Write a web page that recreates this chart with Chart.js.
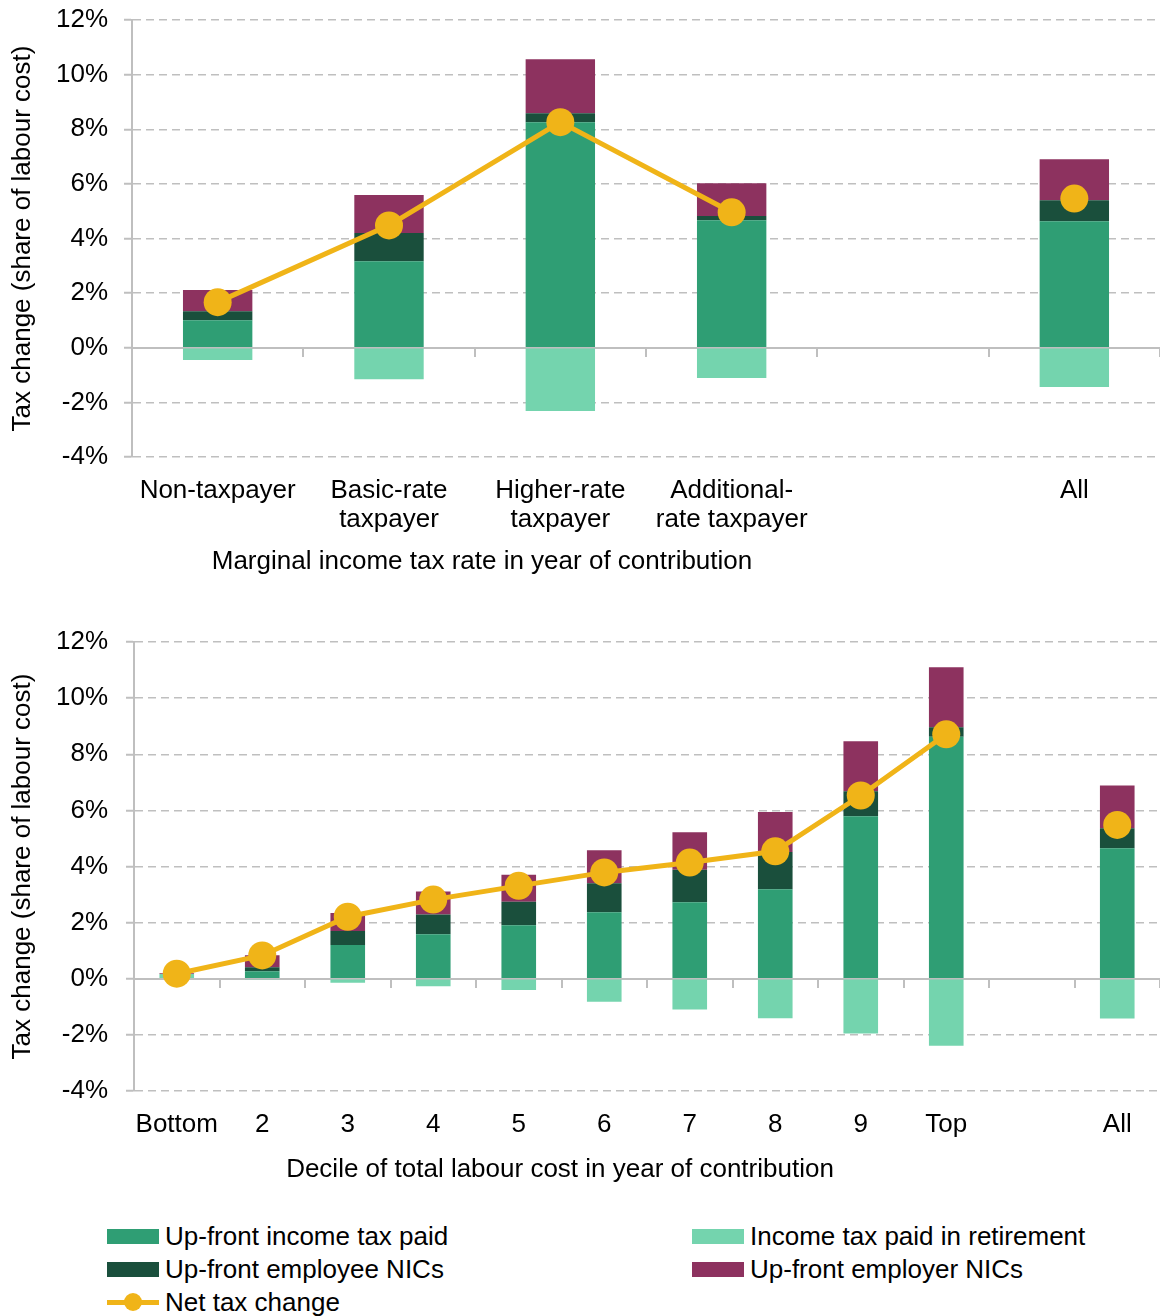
<!DOCTYPE html>
<html><head><meta charset="utf-8">
<script src="https://cdn.jsdelivr.net/npm/chart.js@4.4.1/dist/chart.umd.min.js"></script>
<style>
html,body{margin:0;padding:0;background:#fff;}
#wrap{position:relative;width:1160px;height:1316px;overflow:hidden;font-family:"Liberation Sans",Arial,sans-serif;}
canvas{position:absolute;left:0;}
#c1{top:0;} #c2{top:600px;}
.lg{position:absolute;display:flex;align-items:center;font-size:26px;color:#000;white-space:nowrap;height:34px;line-height:34px;}
.sw{width:52px;height:15px;margin-right:6px;flex:none;}
.ln{position:relative;width:52px;height:18px;margin-right:6px;flex:none;}
.ln .bar{position:absolute;left:0;right:0;top:6.5px;height:5px;}
.ln .dot{position:absolute;left:17px;top:0;width:18px;height:18px;border-radius:50%;}
</style></head>
<body><div id="wrap">
<canvas id="c1" width="1160" height="590"></canvas>
<canvas id="c2" width="1160" height="590"></canvas>
<div id="legend"></div>
</div>
<script>
// ---- Series names and colours ----
const seriesNames = ['Up-front income tax paid','Income tax paid in retirement','Up-front employee NICs','Up-front employer NICs','Net tax change'];
const seriesColors = ['#2f9e74','#74d4ae','#1a4f3c','#8d325f','#f0b418'];

// ---- Top chart: marginal income tax rate ----
const catsTop = ['Non-taxpayer',['Basic-rate','taxpayer'],['Higher-rate','taxpayer'],['Additional-','rate taxpayer'],'','All'];
const upfrontTaxTop   = [1.01, 3.17, 8.26, 4.67, null, 4.63];
const retireTaxTop    = [-0.45, -1.15, -2.32, -1.11, null, -1.44];
const employeeNICTop  = [0.33, 1.03, 0.33, 0.15, null, 0.77];
const employerNICTop  = [0.77, 1.39, 1.97, 1.20, null, 1.50];
const netTop          = [1.67, 4.48, 8.26, 4.96, null, 5.46];

// ---- Bottom chart: decile of total labour cost ----
const catsBot = ['Bottom','2','3','4','5','6','7','8','9','Top','','All'];
const upfrontTaxBot   = [0.00, 0.27, 1.20, 1.59, 1.91, 2.37, 2.73, 3.19, 5.79, 8.62, null, 4.65];
const retireTaxBot    = [0.17, -0.02, -0.14, -0.27, -0.40, -0.82, -1.10, -1.41, -1.95, -2.39, null, -1.42];
const employeeNICBot  = [0.00, 0.14, 0.50, 0.70, 0.83, 1.03, 1.15, 1.33, 0.89, 0.34, null, 0.71];
const employerNICBot  = [0.03, 0.43, 0.64, 0.82, 0.97, 1.18, 1.34, 1.42, 1.78, 2.14, null, 1.53];
const netBot          = [0.18, 0.83, 2.21, 2.82, 3.31, 3.79, 4.14, 4.54, 6.53, 8.71, null, 5.48];

const yTickValues = [-4,-2,0,2,4,6,8,10,12];
const yTitle = 'Tax change (share of labour cost)';
const xTitleTop = 'Marginal income tax rate in year of contribution';
const xTitleBot = 'Decile of total labour cost in year of contribution';

const FONT = '"Liberation Sans", Arial, sans-serif';
Chart.defaults.font.family = FONT;
Chart.defaults.font.size = 26;
Chart.defaults.color = '#000';

const axisTitlePlugin = {
  id: 'axisTitle',
  afterDraw(chart, args, opts) {
    const {ctx, chartArea} = chart;
    ctx.save();
    ctx.font = '26px ' + FONT;
    ctx.fillStyle = '#000';
    ctx.textAlign = 'center';
    ctx.textBaseline = 'middle';
    ctx.fillText(opts.text, opts.x, chartArea.bottom + opts.dy);
    ctx.restore();
  }
};

function build(id, labels, it, ret, emp, empr, net, cfg) {
  const GRID = '#bfbfbf';
  return new Chart(document.getElementById(id), {
    type: 'bar',
    data: {
      labels: labels,
      datasets: [
        {label: seriesNames[0], data: it,   backgroundColor: seriesColors[0], stack: 'bars', order: 1},
        {label: seriesNames[1], data: ret,  backgroundColor: seriesColors[1], stack: 'bars', order: 1},
        {label: seriesNames[2], data: emp,  backgroundColor: seriesColors[2], stack: 'bars', order: 1},
        {label: seriesNames[3], data: empr, backgroundColor: seriesColors[3], stack: 'bars', order: 1},
        {type: 'line', label: seriesNames[4], data: net, stack: 'net', order: 0,
         borderColor: seriesColors[4], backgroundColor: seriesColors[4], borderWidth: 5,
         pointRadius: 14, pointHoverRadius: 14, pointBorderWidth: 0,
         pointBackgroundColor: seriesColors[4], spanGaps: false, tension: 0, clip: false}
      ]
    },
    options: {
      responsive: false, animation: false, devicePixelRatio: 1,
      layout: {autoPadding: false, padding: {top: cfg.padTop, right: 0, left: 0, bottom: 0}},
      datasets: {bar: {categoryPercentage: 1, barPercentage: 0.405, borderWidth: 0}},
      plugins: {legend: {display: false}, tooltip: {enabled: false},
                axisTitle: {text: cfg.xTitle, x: cfg.xTitleX, dy: cfg.xTitleDy}},
      scales: {
        x: {type: 'category', stacked: true, offset: true,
            grid: {display: false, drawTicks: false}, border: {display: false},
            ticks: {padding: cfg.xPad, color: '#000', font: {size: 26, lineHeight: 1.12}, maxRotation: 0, minRotation: 0, autoSkip: false},
            afterFit: s => { s.height = cfg.xHeight; s.paddingLeft = 0; s.paddingRight = 0; }},
        x0: {type: 'category', position: {y: 0}, offset: true,
             grid: {offset: true, drawOnChartArea: false, drawTicks: true, tickLength: 8, color: GRID, lineWidth: 2},
             border: {display: true, color: GRID, width: 2},
             ticks: {display: false}},
        y: {type: 'linear', stacked: true, min: -4, max: 12,
            afterBuildTicks: s => { s.ticks = yTickValues.map(v => ({value: v})); },
            ticks: {callback: v => v + '%', padding: cfg.yPad, color: '#000', font: {size: 26}},
            grid: {color: GRID, lineWidth: 1.5, drawTicks: true, tickLength: 8, tickColor: GRID, tickWidth: 2},
            border: {display: true, color: GRID, width: 2, dash: [8, 5]},
            title: {display: true, text: yTitle, color: '#000', font: {size: 26, lineHeight: 1.2}, padding: {top: 7, bottom: 0}},
            afterFit: s => { s.width = cfg.yWidth; s.paddingTop = 0; s.paddingBottom = 0; }}
      }
    },
    plugins: [axisTitlePlugin]
  });
}

build('c1', catsTop, upfrontTaxTop, retireTaxTop, employeeNICTop, employerNICTop, netTop,
  {padTop: 20, yWidth: 132, yPad: 16, xHeight: 133, xPad: 19, xTitle: xTitleTop, xTitleX: 482, xTitleDy: 105});
build('c2', catsBot, upfrontTaxBot, retireTaxBot, employeeNICBot, employerNICBot, netBot,
  {padTop: 42, yWidth: 134, yPad: 18, xHeight: 99, xPad: 19, xTitle: xTitleBot, xTitleX: 560, xTitleDy: 79});

// ---- HTML legend ----
const legendLayout = [[0, 107, 1236], [1, 692, 1236], [2, 107, 1269], [3, 692, 1269], [4, 107, 1302]];
const lg = document.getElementById('legend');
legendLayout.forEach(([i, x, cy]) => {
  const d = document.createElement('div');
  d.className = 'lg';
  d.style.left = x + 'px';
  d.style.top = (cy - 17) + 'px';
  if (i < 4) {
    d.innerHTML = '<span class="sw" style="background:' + seriesColors[i] + '"></span>';
  } else {
    d.innerHTML = '<span class="ln"><span class="bar" style="background:' + seriesColors[i] + '"></span><span class="dot" style="background:' + seriesColors[i] + '"></span></span>';
  }
  const t = document.createElement('span');
  t.textContent = seriesNames[i];
  d.appendChild(t);
  lg.appendChild(d);
});
</script>
</body></html>
